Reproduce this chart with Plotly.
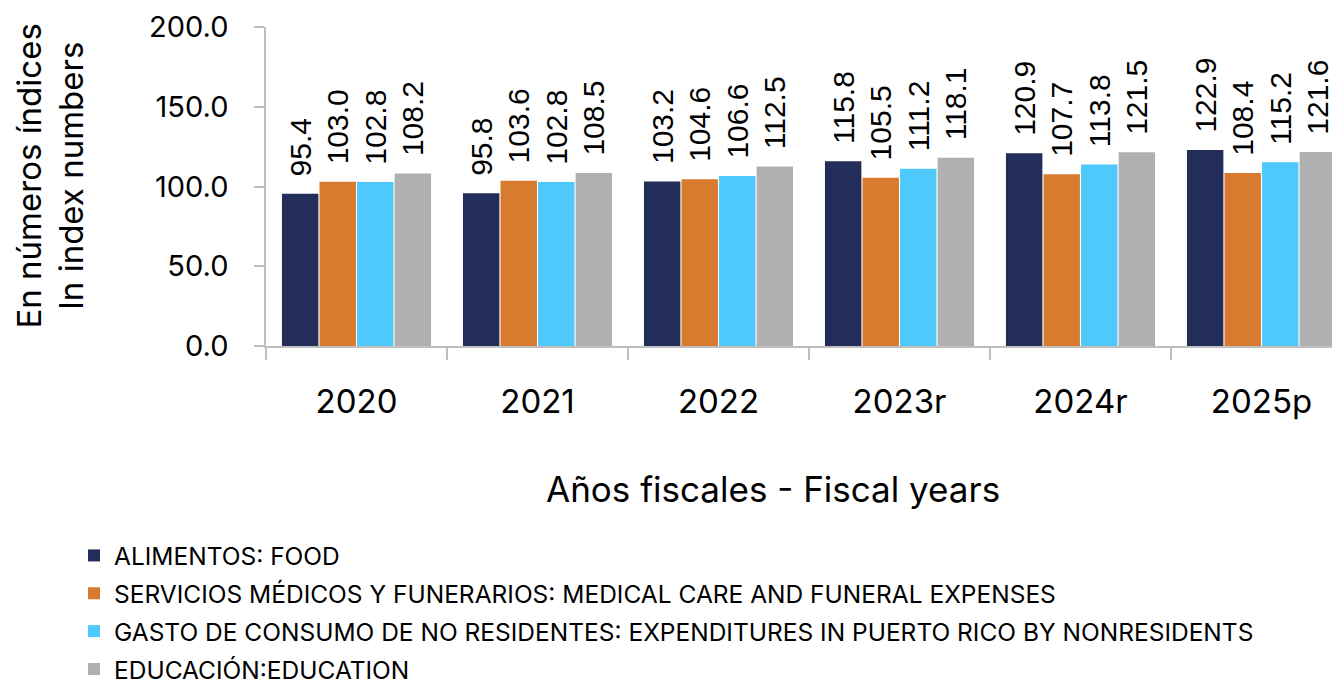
import plotly.graph_objects as go

years = ["2020", "2021", "2022", "2023r", "2024r", "2025p"]
series_names = [
    "ALIMENTOS: FOOD",
    "SERVICIOS MÉDICOS Y FUNERARIOS: MEDICAL CARE AND FUNERAL EXPENSES",
    "GASTO DE CONSUMO DE NO RESIDENTES: EXPENDITURES IN PUERTO RICO BY NONRESIDENTS",
    "EDUCACIÓN:EDUCATION",
]
food = [95.4, 95.8, 103.2, 115.8, 120.9, 122.9]
medical = [103.0, 103.6, 104.6, 105.5, 107.7, 108.4]
nonres = [102.8, 102.8, 106.6, 111.2, 113.8, 115.2]
education = [108.2, 108.5, 112.5, 118.1, 121.5, 121.6]
colors = ["#222D5A", "#D97B2F", "#4FC8FB", "#B0B0B0"]
y_ticks = [0, 50, 100, 150, 200]

# page has an 8px body margin; work in figure coordinates
OFF = 8
W, H = 1340 - OFF, 684 - OFF
L, T = 266 - OFF, 27 - OFF
B = H - (346 - OFF)
cat_w = 181.0
plot_w = W - L
plot_h = H - T - B

fig = go.Figure()
for i, (name, vals) in enumerate(zip(series_names, [food, medical, nonres, education])):
    fig.add_trace(go.Bar(
        x=years, y=vals, name=name,
        marker=dict(color=colors[i], line=dict(width=0)),
        text=[f"\u00a0\u2009{v:.1f}" for v in vals],
        textposition="outside", textangle=-90,
        textfont=dict(family="Liberation Sans, Arial", size=30, color="#000000"),
        constraintext="none", cliponaxis=False,
        legendgroup=str(i),
    ))

fig.update_layout(
    width=W, height=H,
    margin=dict(l=L, r=0, t=T, b=B, autoexpand=False),
    paper_bgcolor="white", plot_bgcolor="white",
    barmode="group", bargap=0.17, bargroupgap=0.03,
    font=dict(family="Inter, Open Sans, sans-serif", color="#000000"),
    showlegend=True,
    legend=dict(
        xref="container", yref="container",
        x=66 / W, y=1 - 525 / H, xanchor="left", yanchor="top",
        font=dict(size=24.5, color="#000000"),
        tracegroupgap=3, itemwidth=30,
        bgcolor="rgba(0,0,0,0)",
    ),
    xaxis=dict(
        range=[-0.5, -0.5 + plot_w / cat_w],
        showline=True, linecolor="#BFBFBF", linewidth=1.5,
        ticks="outside", tickson="boundaries", ticklen=12, tickcolor="#BFBFBF", tickwidth=1.5,
        tickfont=dict(size=33),
        ticklabelstandoff=26,
        showgrid=False, zeroline=False,
    ),
    yaxis=dict(
        range=[0, 200], tickvals=y_ticks, ticktext=[f"{v:.1f}" for v in y_ticks],
        showline=True, linecolor="#BFBFBF", linewidth=1.5,
        ticks="outside", ticklen=10, tickcolor="#BFBFBF", tickwidth=1.5,
        tickfont=dict(size=29),
        ticklabelstandoff=20,
        showgrid=False, zeroline=False,
    ),
    annotations=[
        dict(text="En números índices<br>In index numbers", textangle=-90,
             xref="paper", yref="paper", x=-(L - 42) / plot_w, y=0.5 + 10 / plot_h,
             xanchor="center", yanchor="middle", showarrow=False,
             font=dict(size=33, color="#000000")),
        dict(text="Años fiscales - Fiscal years",
             xref="paper", yref="paper", x=(773 - 266) / plot_w, y=-(489 - 346) / plot_h,
             xanchor="center", yanchor="middle", showarrow=False,
             font=dict(size=35, color="#000000")),
    ],
)

fig.write_html("out.html")
